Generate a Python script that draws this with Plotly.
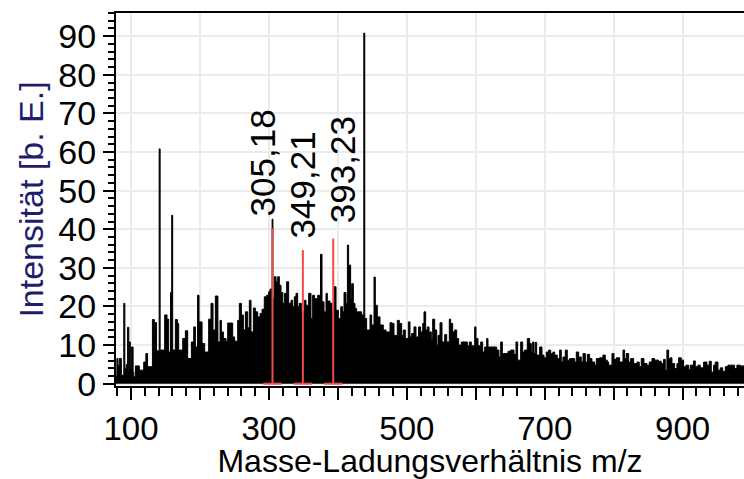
import plotly.graph_objects as go

# ---- spectrum (step profile: start m/z of each segment and its intensity) ----
mz = [
    78.0, 79.5, 81.0, 83.0, 86.0, 89.5, 91.0, 93.0, 95.0, 96.8, 97.6, 99.0, 100.5, 103.0, 104.0,
    106.3, 112.0, 118.4, 121.5, 124.0, 131.0, 133.8, 134.8, 137.0, 140.8, 142.2, 148.8, 152.2,
    154.6, 157.3, 159.0, 160.4, 164.3, 167.2, 169.1, 175.0, 178.8, 182.2, 187.5, 190.9, 193.3,
    196.5, 198.6, 203.0, 206.8, 212.6, 216.0, 218.9, 222.3, 226.0, 229.1, 231.0, 233.9, 237.8,
    240.2, 247.4, 250.3, 254.7, 257.1, 260.0, 262.9, 265.8, 269.2, 271.6, 274.0, 277.4, 280.3,
    283.7, 287.1, 290.0, 293.3, 296.7, 299.6, 301.6, 304.6, 305.8, 307.8, 310.3, 312.7, 315.1,
    317.5, 320.0, 322.3, 325.7, 328.6, 332.0, 334.4, 336.8, 339.3, 341.7, 344.1, 347.0, 351.3,
    353.8, 357.6, 361.0, 363.4, 366.3, 370.7, 374.8, 377.0, 379.9, 382.8, 384.7, 388.6, 391.5,
    394.4, 397.3, 400.7, 404.1, 406.9, 408.9, 411.8, 413.8, 415.6, 418.5, 420.0, 422.4, 424.8,
    427.2, 434.5, 437.6, 439.0, 441.7, 446.6, 449.0, 452.4, 454.3, 457.2, 461.1, 465.9, 469.8,
    475.6, 478.5, 481.4, 486.2, 489.1, 492.5, 494.9, 497.8, 502.2, 504.6, 507.0, 510.4, 513.3,
    517.1, 520.0, 523.0, 524.9, 527.3, 529.7, 532.2, 535.5, 537.5, 540.4, 543.3, 545.2, 548.1,
    551.0, 554.9, 557.8, 561.6, 563.6, 566.5, 569.4, 572.3, 575.2, 579.0, 587.7, 590.6, 593.5,
    598.4, 600.3, 603.2, 607.1, 610.0, 612.9, 615.8, 617.7, 630.3, 633.6, 636.1, 638.5, 646.7,
    650.6, 655.4, 658.3, 660.7, 665.1, 668.0, 670.9, 674.7, 678.1, 680.5, 682.5, 684.4, 686.3,
    688.3, 692.6, 696.0, 698.9, 702.3, 705.7, 708.6, 711.9, 714.4, 718.2, 721.6, 724.0, 726.4,
    729.8, 732.7, 736.1, 743.4, 745.8, 749.2, 753.0, 755.5, 758.8, 761.7, 765.1, 768.5, 772.4,
    774.8, 779.6, 784.4, 787.8, 790.7, 792.7, 797.5, 800.4, 803.8, 808.6, 813.5, 815.9, 818.3,
    821.7, 824.6, 828.9, 833.8, 837.1, 840.0, 843.9, 848.3, 851.6, 855.5, 859.4, 865.2, 869.0,
    872.4, 874.8, 877.2, 879.7, 882.1, 884.5, 888.4, 891.7, 894.2, 898.0, 901.4, 904.8, 908.7,
    911.1, 915.9, 918.3, 922.2, 925.6, 930.4, 935.2, 938.6, 941.5, 944.9, 947.3, 951.2, 954.6,
    958.0, 961.8, 965.7, 975.4, 978.7, 983.6, 992.0,
]
intensity = [
    2.0, 6.5, 4.8, 6.5, 2.2, 20.8, 4.0, 5.0, 14.6, 3.0, 10.8, 4.0, 9.5, 3.0, 1.8,
    4.6, 3.5, 5.6, 7.8, 4.4, 16.6, 13.0, 15.8, 8.5, 60.8, 8.7, 17.8, 16.7,
    8.2, 23.6, 43.6, 8.7, 16.6, 15.6, 8.7, 11.7, 13.7, 6.5, 10.8, 14.7, 9.5,
    22.9, 16.0, 10.4, 8.2, 16.7, 20.8, 13.9, 22.7, 10.8, 16.4, 13.4, 11.7, 11.0,
    15.7, 12.1, 11.0, 16.4, 20.8, 17.8, 13.9, 18.6, 14.5, 21.6, 13.4, 19.6, 18.6,
    17.3, 18.2, 19.3, 22.5, 22.9, 23.8, 24.5, 42.6, 22.0, 27.7, 26.4, 27.7, 25.5,
    23.6, 20.8, 23.4, 26.4, 20.8, 21.6, 19.9, 22.5, 23.4, 19.9, 20.8, 18.6, 21.6,
    20.3, 23.4, 16.9, 22.9, 22.0, 22.9, 33.5, 21.2, 18.6, 23.4, 21.4, 20.8, 19.0,
    25.1, 19.0, 16.9, 19.9, 18.6, 23.6, 20.8, 35.9, 30.7, 22.0, 25.9, 20.8, 19.5,
    18.6, 17.8, 90.8, 16.9, 13.9, 17.8, 15.2, 27.6, 20.3, 17.3, 15.2, 13.9, 13.4,
    15.8, 15.6, 12.5, 16.4, 15.6, 12.5, 13.9, 11.7, 16.0, 12.1, 13.0, 14.7, 12.1,
    14.7, 13.4, 15.6, 18.6, 13.9, 14.7, 13.4, 11.5, 16.7, 13.9, 10.0, 12.5, 15.8,
    10.8, 12.7, 10.8, 16.7, 15.6, 13.4, 13.9, 11.7, 10.0, 10.8, 9.8, 10.8, 9.8,
    14.7, 11.7, 9.8, 10.8, 8.2, 9.5, 11.7, 9.5, 8.7, 6.9, 10.8, 7.8, 8.4,
    8.7, 7.6, 10.8, 6.1, 10.8, 8.2, 8.7, 11.7, 10.4, 8.2, 10.8, 7.8, 10.7,
    7.4, 9.5, 7.4, 6.7, 8.2, 8.7, 7.8, 8.2, 7.4, 6.5, 8.7, 5.6, 6.9,
    8.7, 6.1, 6.5, 5.6, 8.2, 6.9, 5.6, 7.8, 5.6, 7.6, 6.5, 5.6, 4.8,
    6.5, 6.7, 7.4, 6.1, 5.6, 4.8, 7.8, 6.3, 6.7, 5.6, 8.7, 6.5, 7.8,
    5.6, 6.5, 5.2, 5.6, 4.4, 6.5, 5.2, 4.8, 5.6, 6.5, 6.1, 5.8, 5.2,
    6.3, 3.5, 8.7, 6.5, 6.7, 5.2, 3.9, 5.2, 6.7, 6.1, 4.4, 4.8, 3.7,
    4.8, 5.9, 4.4, 4.8, 4.1, 5.6, 4.8, 5.8, 3.0, 4.8, 5.6, 3.5, 4.1,
    3.2, 4.4, 4.8, 3.9, 4.8, 4.6, 4.6,
]

# ---- assigned peaks ----
peak_mz = [305.18, 349.21, 393.23]
peak_int = [40.2, 34.6, 37.6]
peak_label_dx = [-10, 0, 9]      # horizontal label offsets (px)
peak_label_dy = [10, 10, 13]     # gap between stick top and label (px)

x_tick_vals = [100, 200, 300, 400, 500, 600, 700, 800, 900]
x_tick_text = ["100", "", "300", "", "500", "", "700", "", "900"]
y_tick_vals = [0, 10, 20, 30, 40, 50, 60, 70, 80, 90]

RED = "#EE4B4B"
FONT = "Liberation Sans, Arial, sans-serif"

fig = go.Figure()

fig.add_trace(go.Scatter(
    x=mz, y=intensity, mode="lines", line=dict(color="black", width=1, shape="hv"),
    fill="tozeroy", fillcolor="black", hoverinfo="skip", showlegend=False,
))

# red assignment sticks
sx, sy = [], []
for m, h in zip(peak_mz, peak_int):
    sx += [m, m, None]
    sy += [0, h, None]
fig.add_trace(go.Scatter(x=sx, y=sy, mode="lines", line=dict(color=RED, width=2),
                         hoverinfo="skip", showlegend=False))
fig.add_trace(go.Scatter(x=peak_mz, y=[0] * len(peak_mz), mode="markers",
                         marker=dict(symbol="line-ew", size=13, line=dict(color=RED, width=2)),
                         hoverinfo="skip", showlegend=False))

for m, h, dx, dy in zip(peak_mz, peak_int, peak_label_dx, peak_label_dy):
    fig.add_annotation(
        x=m, y=h, xref="x", yref="y", text=f"{m:.2f}".replace(".", ","),
        textangle=-90, showarrow=False, xanchor="center", yanchor="bottom",
        xshift=dx, yshift=dy, font=dict(family=FONT, size=35, color="black"),
    )

# white panels above the grid (label and key areas), in paper units
W, H = 628.0, 373.0
def px_box(x0, y0, x1, y1):
    return dict(type="rect", xref="paper", yref="paper",
                x0=(x0 - 116) / W, x1=(x1 - 116) / W,
                y0=(386 - y1) / H, y1=(386 - y0) / H,
                fillcolor="white", line=dict(width=0), layer="between")

fig.update_layout(shapes=[
    px_box(255, 28, 742, 73),
    px_box(428, 137, 702, 227),
    px_box(234, 27, 295, 224),
    px_box(285, 120, 323, 250),
    px_box(310, 78, 372, 232),
])

fig.update_layout(
    width=744, height=479,
    margin=dict(l=116, r=0, t=13, b=93, pad=0),
    paper_bgcolor="white", plot_bgcolor="white",
    font=dict(family=FONT, color="black"),
    xaxis=dict(
        range=[78.2, 989], tickmode="array", tickvals=x_tick_vals, ticktext=x_tick_text,
        ticks="outside", ticklen=12, tickwidth=2, tickcolor="black",
        tickfont=dict(size=33, color="black"),
        showline=True, linecolor="black", linewidth=2, mirror=True,
        showgrid=True, gridcolor="#EBEBEB", gridwidth=2, zeroline=False,
        minor=dict(tick0=0, dtick=20, ticks="outside", ticklen=8, tickwidth=2,
                   tickcolor="black", showgrid=False),
        title=dict(text="Masse-Ladungsverhältnis m/z", font=dict(size=32, color="black"), standoff=9),
    ),
    yaxis=dict(
        range=[-0.6, 96], tickmode="array", tickvals=y_tick_vals,
        ticks="outside", ticklen=11, tickwidth=2, tickcolor="black",
        tickfont=dict(size=34, color="black"),
        showline=True, linecolor="black", linewidth=2, mirror=False,
        showgrid=True, gridcolor="#EBEBEB", gridwidth=2, zeroline=False,
        minor=dict(tick0=0, dtick=2, ticks="outside", ticklen=6, tickwidth=2,
                   tickcolor="black", showgrid=False),
        title=dict(text="Intensität [b. E.]", font=dict(size=34, color="#1E1E6E"), standoff=4),
    ),
)

fig.write_html("out.html")
